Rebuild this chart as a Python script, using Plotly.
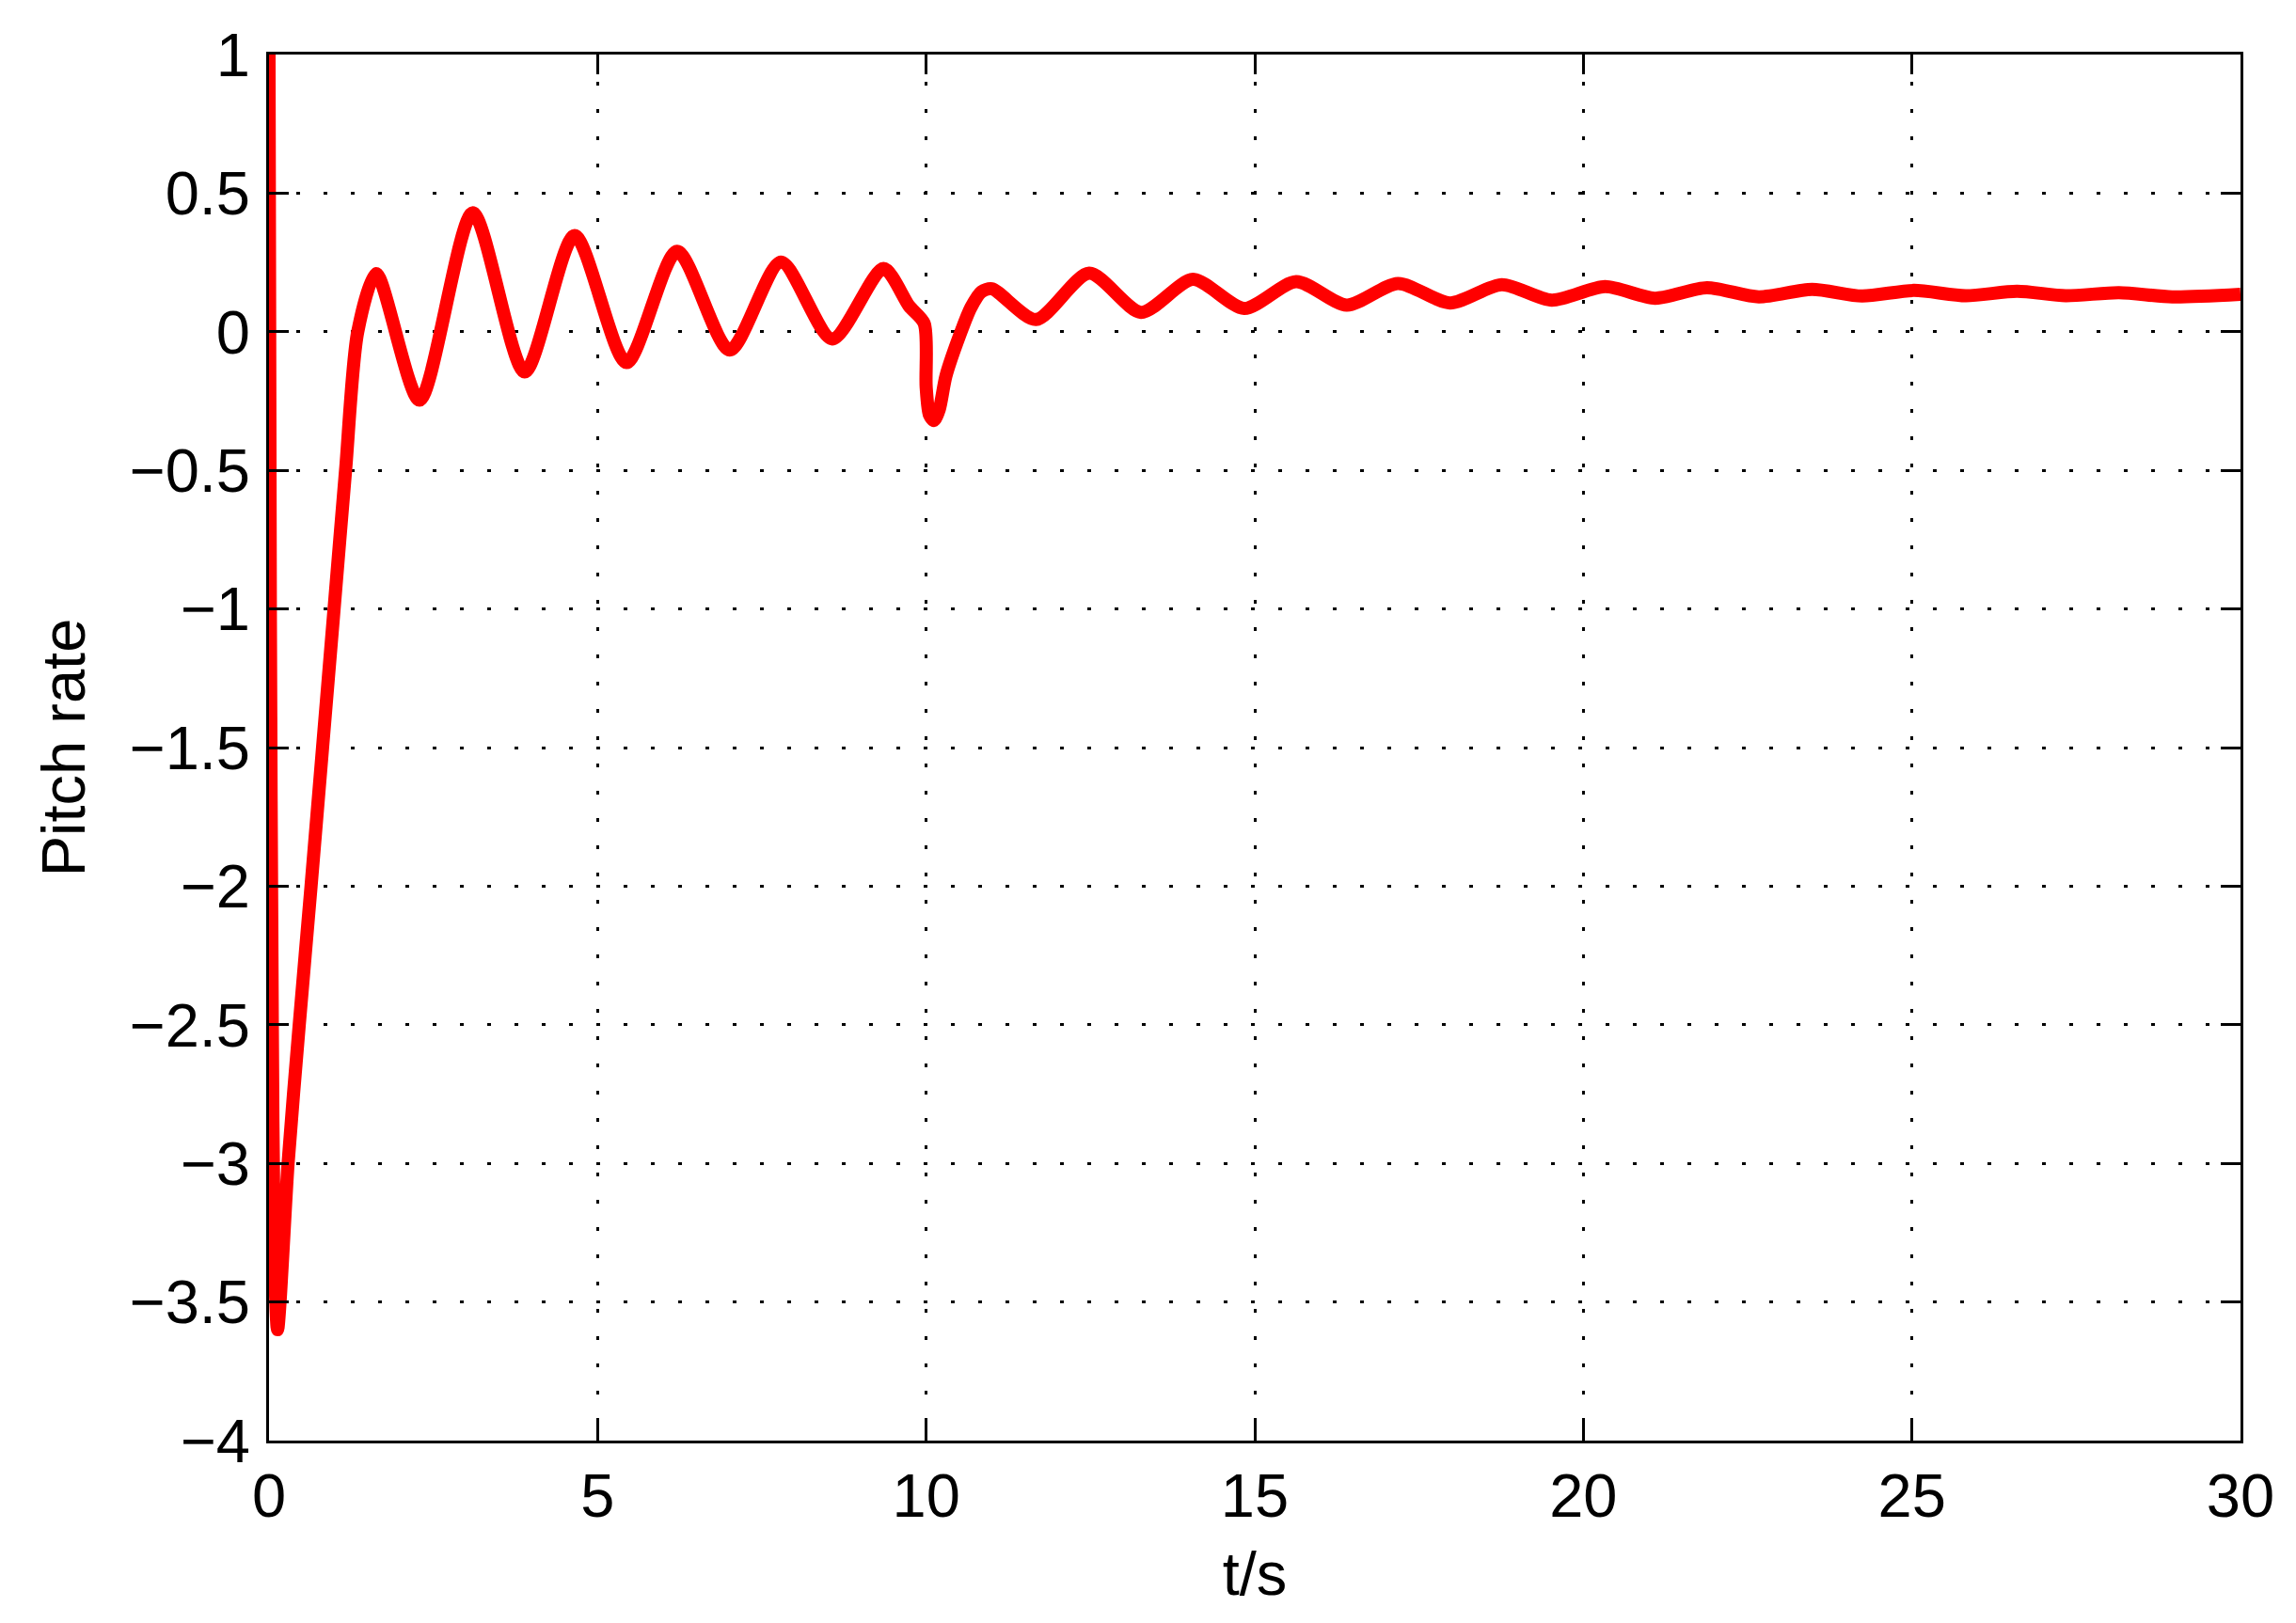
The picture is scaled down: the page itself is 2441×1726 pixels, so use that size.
import plotly.graph_objects as go

# time (s) and pitch rate (extrema plus a few points on the steep parts)
t = [0, 0.02, 0.05, 0.08, 0.13, 0.29, 0.46, 0.64, 0.815, 0.99, 1.165, 1.35, 1.63,
     2.29, 3.10, 3.89, 4.65, 5.44, 6.21, 7.01, 7.79, 8.57, 9.35, 9.74, 9.97,
     10.0, 10.05, 10.12, 10.2, 10.3, 10.53, 10.68, 10.84, 11.0, 11.67, 12.48, 13.27, 14.06, 14.84,
     15.63, 16.40, 17.18, 17.97, 18.76, 19.52, 20.33, 21.09, 21.88, 22.67,
     23.48, 24.24, 25.03, 25.82, 26.6, 27.34, 28.15, 28.96, 30]
pitch_rate = [1.0, -1.0, -2.5, -3.3, -3.6, -3.0, -2.5, -2.0, -1.5, -1.0, -0.5, 0.0, 0.21,
              -0.247, 0.429, -0.145, 0.347, -0.111, 0.29, -0.066, 0.251, -0.026, 0.228, 0.093, 0.03,
              -0.2, -0.3, -0.32, -0.28, -0.16, 0.0, 0.087, 0.144, 0.155, 0.044, 0.211, 0.07, 0.189, 0.084,
              0.181, 0.096, 0.174, 0.104, 0.17, 0.114, 0.163, 0.121, 0.159, 0.126,
              0.153, 0.129, 0.149, 0.130, 0.146, 0.130, 0.141, 0.126, 0.135]

fnt = dict(family="Liberation Sans, Arial, Helvetica", size=65, color="black")

fig = go.Figure()
fig.add_trace(go.Scatter(x=t, y=pitch_rate, mode="lines",
                         line=dict(color="#ff0000", width=14, shape="spline", smoothing=0.75),
                         showlegend=False))

axis_style = dict(showline=True, linecolor="black", linewidth=3, mirror="ticks",
                  ticks="inside", ticklen=21, tickwidth=3, tickcolor="black",
                  showgrid=True, gridcolor="black", gridwidth=3, griddash="4px,25px",
                  zeroline=False, tickfont=fnt)

fig.update_xaxes(range=[0, 30], dtick=5, title=dict(text="t/s", font=fnt, standoff=25), **axis_style)
fig.update_yaxes(range=[-4, 1], dtick=0.5, title=dict(text="Pitch rate", font=fnt, standoff=26),
                 ticklabelstandoff=4, **axis_style)

# page body has an 8px margin, so the figure is 8px smaller and shifted
fig.update_layout(width=2433, height=1718,
                  margin=dict(l=278, r=59, t=50, b=194, autoexpand=False),
                  plot_bgcolor="white", paper_bgcolor="white")

fig.write_html("out.html")
